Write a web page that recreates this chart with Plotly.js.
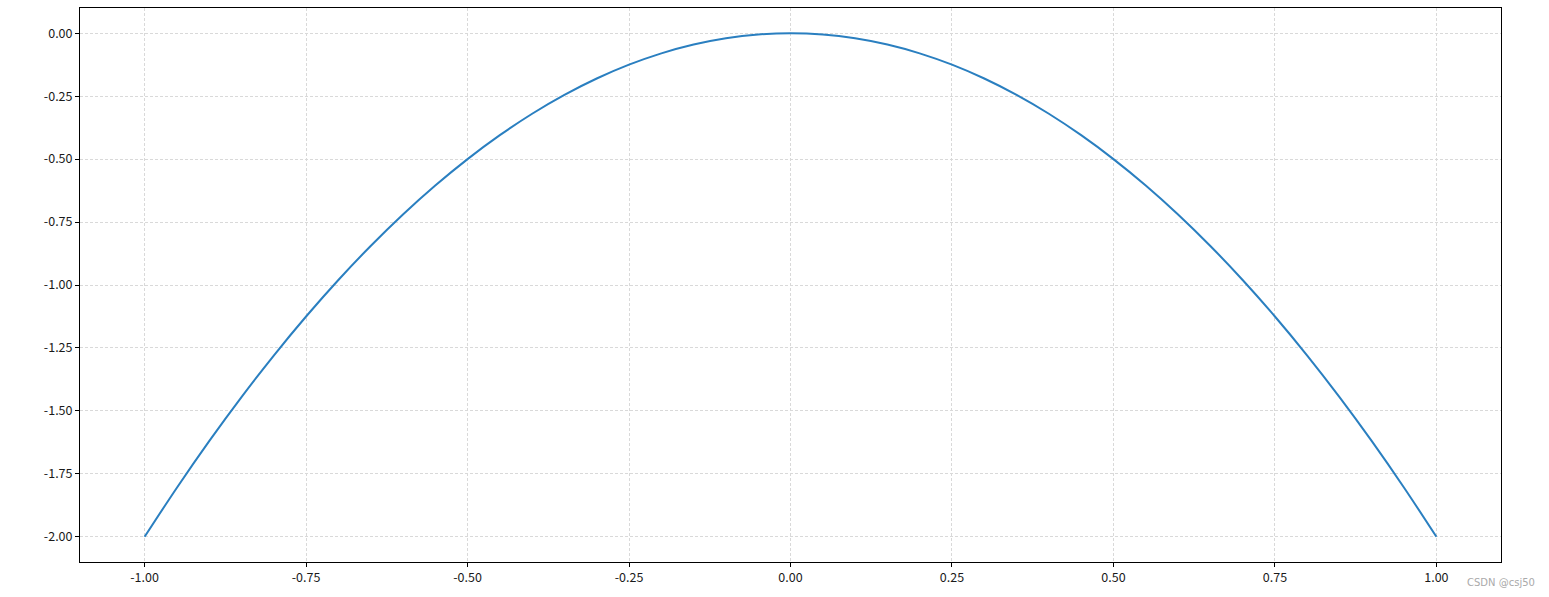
<!DOCTYPE html>
<html>
<head>
<meta charset="utf-8">
<script src="https://cdn.plot.ly/plotly-3.0.1.min.js"></script>
<style>html,body{margin:0;padding:0;background:#fff;}#chart{width:1549px;height:597px;}</style>
</head>
<body>
<div id="chart"></div>
<script>
const xValues = [-1.00,-0.95,-0.90,-0.85,-0.80,-0.75,-0.70,-0.65,-0.60,-0.55,-0.50,-0.45,-0.40,-0.35,-0.30,-0.25,-0.20,-0.15,-0.10,-0.05,0.00,0.05,0.10,0.15,0.20,0.25,0.30,0.35,0.40,0.45,0.50,0.55,0.60,0.65,0.70,0.75,0.80,0.85,0.90,0.95,1.00];
const yValues = [-2.000,-1.805,-1.620,-1.445,-1.280,-1.125,-0.980,-0.845,-0.720,-0.605,-0.500,-0.405,-0.320,-0.245,-0.180,-0.125,-0.080,-0.045,-0.020,-0.005,0.000,-0.005,-0.020,-0.045,-0.080,-0.125,-0.180,-0.245,-0.320,-0.405,-0.500,-0.605,-0.720,-0.845,-0.980,-1.125,-1.280,-1.445,-1.620,-1.805,-2.000];
const xTickVals = [-1.00,-0.75,-0.50,-0.25,0.00,0.25,0.50,0.75,1.00];
const xTickText = ["-1.00","-0.75","-0.50","-0.25","0.00","0.25","0.50","0.75","1.00"];
const yTickVals = [0.00,-0.25,-0.50,-0.75,-1.00,-1.25,-1.50,-1.75,-2.00];
const yTickText = ["0.00","-0.25","-0.50","-0.75","-1.00","-1.25","-1.50","-1.75","-2.00"];
const watermark = "CSDN @csj50";

const fontFam = '"Noto Sans CJK SC", "Noto Sans", "DejaVu Sans", sans-serif';
const axisCommon = {
  showline: true, mirror: true, linecolor: '#000', linewidth: 1,
  ticks: 'outside', ticklen: 4, tickwidth: 1, tickcolor: '#000',
  showgrid: true, gridcolor: '#d9d9d9', griddash: '3px,2px', gridwidth: 1,
  zeroline: false, tickfont: {family: fontFam, size: 12.5, color: '#1a1a1a'}
};
const data = [{
  x: xValues, y: yValues, type: 'scatter', mode: 'lines',
  line: {color: '#2a7fc0', width: 2, shape: 'spline', smoothing: 1.0},
  hoverinfo: 'skip'
}];
const layout = {
  width: 1549, height: 597,
  margin: {l: 80, r: 48, t: 8, b: 35},
  paper_bgcolor: '#fff', plot_bgcolor: '#fff',
  showlegend: false,
  xaxis: Object.assign({}, axisCommon, {range: [-1.1, 1.1], tickmode: 'array', tickvals: xTickVals, ticktext: xTickText}),
  yaxis: Object.assign({}, axisCommon, {range: [-2.1, 0.1], tickmode: 'array', tickvals: yTickVals, ticktext: yTickText}),
  annotations: [{
    text: watermark, xref: 'paper', yref: 'paper', x: 1.0, y: 0, xanchor: 'left', yanchor: 'top',
    xshift: -36, yshift: -13, showarrow: false,
    font: {family: '"DejaVu Sans", sans-serif', size: 10, color: '#aaa'}
  }]
};
Plotly.newPlot('chart', data, layout, {displayModeBar: false, staticPlot: true});
</script>
</body>
</html>
